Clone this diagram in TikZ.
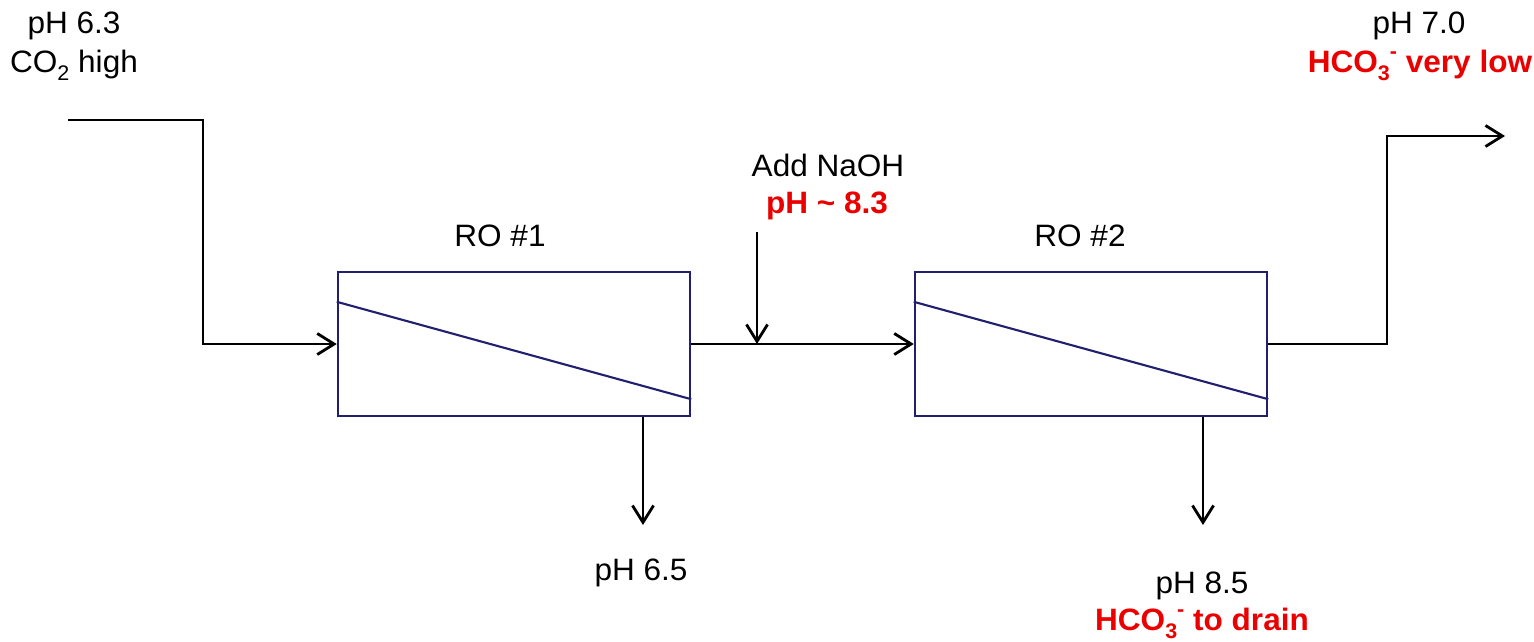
\documentclass[tikz,border=0pt]{standalone}
\usepackage{fontspec}
\setmainfont{Liberation Sans}
\usetikzlibrary{arrows.meta}
\definecolor{ronavy}{RGB}{32,32,110}
\definecolor{hotred}{RGB}{235,0,0}
\newcommand{\wide}[1]{\scalebox{1.02}[1]{#1}}
\newcommand{\lowidx}[1]{\raisebox{-0.28em}{\fontsize{15}{15}\selectfont #1}}
\newcommand{\highidx}[1]{\raisebox{0.45em}{\fontsize{15}{15}\selectfont #1}}
\tikzset{
  flow/.style={line width=2pt,-{Straight Barb[length=12pt,width=15pt,line width=2pt]}},
  robox/.style={draw=ronavy,line width=1.7pt,minimum width=8.8cm,minimum height=3.6cm,inner sep=0pt},
  membrane/.style={draw=ronavy,line width=1.5pt},
  lbl/.style={anchor=base,inner sep=0pt,font=\fontsize{22}{26}\selectfont},
  redlbl/.style={lbl,text=hotred,font=\fontsize{22}{26}\selectfont\bfseries}
}
\begin{document}
\begin{tikzpicture}[x=0.025cm,y=-0.025cm]
\useasboundingbox (0,0) rectangle (1534,641);

\node[robox] (ro1) at (514,344) {};
\node[robox] (ro2) at (1091,344) {};
\draw[membrane] ([yshift=-0.775cm]ro1.north west) -- ([yshift=0.45cm]ro1.south east);
\draw[membrane] ([yshift=-0.775cm]ro2.north west) -- ([yshift=0.45cm]ro2.south east);

\coordinate (inlet) at (68,120);
\coordinate (drop) at (203,120);
\coordinate (naoh) at (757,232);
\coordinate (riser) at (1387,136);
\coordinate (product) at (1505,136);
\coordinate (conc1) at (643,525);
\coordinate (conc2) at (1203,525);

\draw[flow] (inlet) -- (drop) |- (ro1.west);
\draw[flow] (ro1.east) -- (ro2.west);
\draw[flow] (naoh) -- (naoh |- ro1.east);
\draw[flow] (ro2.east) -| (riser) -- (product);
\draw[flow] (conc1 |- ro1.south) -- (conc1);
\draw[flow] (conc2 |- ro2.south) -- (conc2);

\node[lbl] (ph63) at (74,33) {\wide{pH 6.3}};
\node[lbl] (co2hi) at (74,72) {\wide{CO\lowidx{2} high}};
\node[lbl] (ph70) at (1419,33) {\wide{pH 7.0}};
\node[redlbl] (hco3low) at (1420,72) {\wide{HCO\lowidx{3}\highidx{-} very low}};
\node[lbl] (addnaoh) at (828,176) {\wide{Add NaOH}};
\node[redlbl] (ph83) at (827,213) {\wide{pH \textasciitilde{} 8.3}};
\node[lbl] (rolbl1) at (500,246) {\wide{RO \#1}};
\node[lbl] (rolbl2) at (1080,246) {\wide{RO \#2}};
\node[lbl] (ph65) at (641,580) {\wide{pH 6.5}};
\node[lbl] (ph85) at (1202,593) {\wide{pH 8.5}};
\node[redlbl] (hco3drain) at (1202,630) {\wide{HCO\lowidx{3}\highidx{-} to drain}};
\end{tikzpicture}
\end{document}
